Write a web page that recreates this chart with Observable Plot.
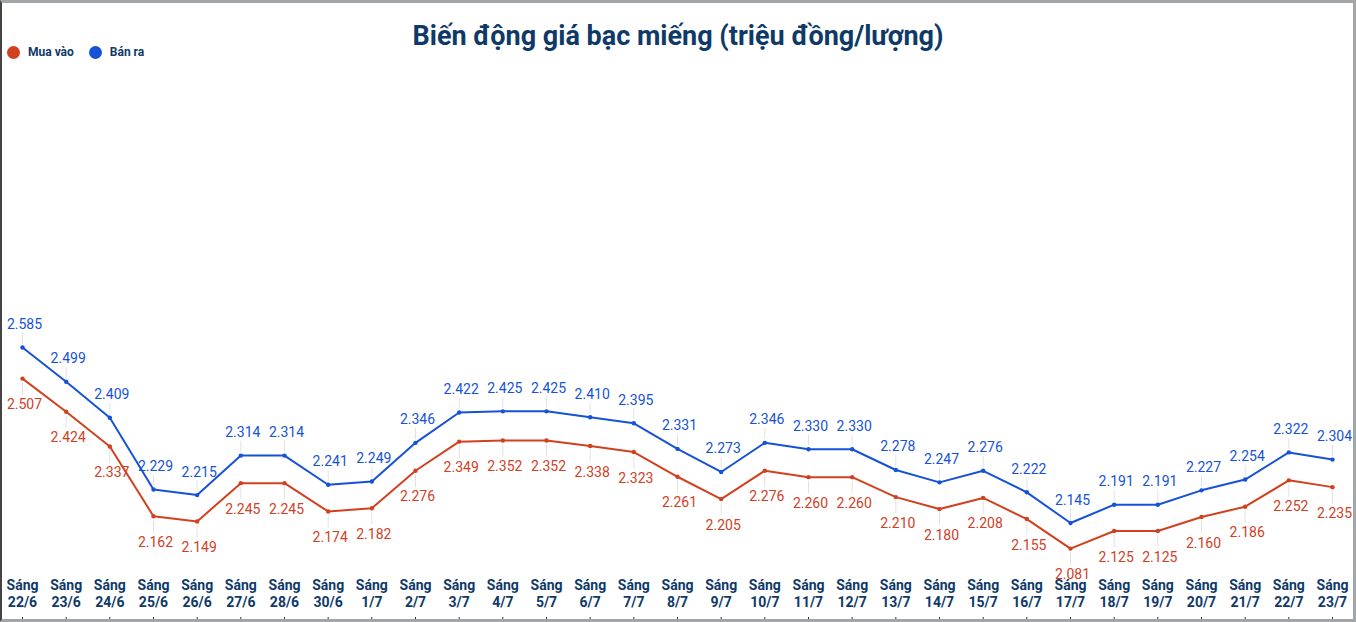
<!DOCTYPE html>
<html><head><meta charset="utf-8">
<script src="https://cdn.jsdelivr.net/npm/d3@7"></script>
<script src="https://cdn.jsdelivr.net/npm/@observablehq/plot@0.6"></script>
<style>
body{margin:0;background:#fff;font-family:Roboto,"Noto Sans",sans-serif;}
#wrap{position:relative;width:1356px;height:622px;overflow:hidden;}
#title{position:absolute;left:0;width:1356px;top:20px;text-align:center;font-size:27px;font-weight:700;color:#0f3a68;}
#legend{position:absolute;left:7px;top:45px;font-size:12px;font-weight:700;color:#0f3a68;display:flex;align-items:center;}
#legend .dot{display:inline-block;width:13px;height:13px;border-radius:50%;margin-right:8px;}
#legend .item{display:flex;align-items:center;margin-right:15px;}
#frame{position:absolute;left:0;top:0;width:1356px;height:622px;box-sizing:border-box;border-top:3px solid #a3a6a9;border-right:3px solid #a3a6a9;border-bottom:3px solid #a3a6a9;border-left:2px solid #444;pointer-events:none;}
#chart{position:absolute;left:0;top:0;}
</style></head>
<body>
<div id="wrap">
<div id="chart"></div>
<div id="title">Biến động giá bạc miếng (triệu đồng/lượng)</div>
<div id="legend"><span class="item"><span class="dot" style="background:#d1401f"></span>Mua vào</span><span class="item"><span class="dot" style="background:#1652d8"></span>Bán ra</span></div>
<div id="frame"></div>
</div>
<script>
const dates = ["22/6","23/6","24/6","25/6","26/6","27/6","28/6","30/6","1/7","2/7","3/7","4/7","5/7","6/7","7/7","8/7","9/7","10/7","11/7","12/7","13/7","14/7","15/7","16/7","17/7","18/7","19/7","20/7","21/7","22/7","23/7"];
const muaVao = [2.507,2.424,2.337,2.162,2.149,2.245,2.245,2.174,2.182,2.276,2.349,2.352,2.352,2.338,2.323,2.261,2.205,2.276,2.260,2.260,2.210,2.180,2.208,2.155,2.081,2.125,2.125,2.160,2.186,2.252,2.235];
const banRa = [2.585,2.499,2.409,2.229,2.215,2.314,2.314,2.241,2.249,2.346,2.422,2.425,2.425,2.410,2.395,2.331,2.273,2.346,2.330,2.330,2.278,2.247,2.276,2.222,2.145,2.191,2.191,2.227,2.254,2.322,2.304];

const RED = "#d1401f", BLUE = "#1652d8";
const buy = dates.map((d,i)=>({d, v: muaVao[i]}));
const sell = dates.map((d,i)=>({d, v: banRa[i]}));
const fmt = v => v.toFixed(3);

const chart = Plot.plot({
  width: 1356, height: 622,
  marginTop: 0, marginBottom: 48, marginLeft: 0, marginRight: 0,
  style: {fontFamily: "Roboto, 'Noto Sans', sans-serif", background: "transparent"},
  x: {type: "point", domain: dates, range: [22, 1332], padding: 0, round: false, label: null},
  y: {domain: [2, 3], range: [580.4, 181.4], axis: null},
  marks: [
    Plot.ruleX(sell, {x: "d", y1: d => d.v + 0.008, y2: d => d.v + 0.036, stroke: "#e2e2e2", strokeWidth: 1}),
    Plot.ruleX(buy, {x: "d", y1: d => d.v - 0.010, y2: d => d.v - 0.042, stroke: "#e2e2e2", strokeWidth: 1}),
    Plot.line(buy, {x: "d", y: "v", stroke: RED, strokeWidth: 2}),
    Plot.line(sell, {x: "d", y: "v", stroke: BLUE, strokeWidth: 2}),
    Plot.dot(buy, {x: "d", y: "v", r: 2.2, fill: RED}),
    Plot.dot(sell, {x: "d", y: "v", r: 2.2, fill: BLUE}),
    Plot.text(sell, {x: "d", y: "v", text: d => fmt(d.v), dy: -23, dx: 2, fill: BLUE, fontSize: 14}),
    Plot.text(buy, {x: "d", y: "v", text: d => fmt(d.v), dy: 26, dx: 2, fill: RED, fontSize: 14}),
    Plot.axisX({anchor: "bottom", tickSize: 0, tickPadding: 4, tickFormat: d => "Sáng\n" + d, fontSize: 14, fontWeight: 700, fill: "#0f3a68", lineHeight: 1.2, label: null}),
    Plot.axisX({anchor: "bottom", tickSize: 3, text: null, dy: 43, stroke: "#0f3a68", label: null})
  ]
});
document.getElementById("chart").appendChild(chart);
</script>
</body></html>
